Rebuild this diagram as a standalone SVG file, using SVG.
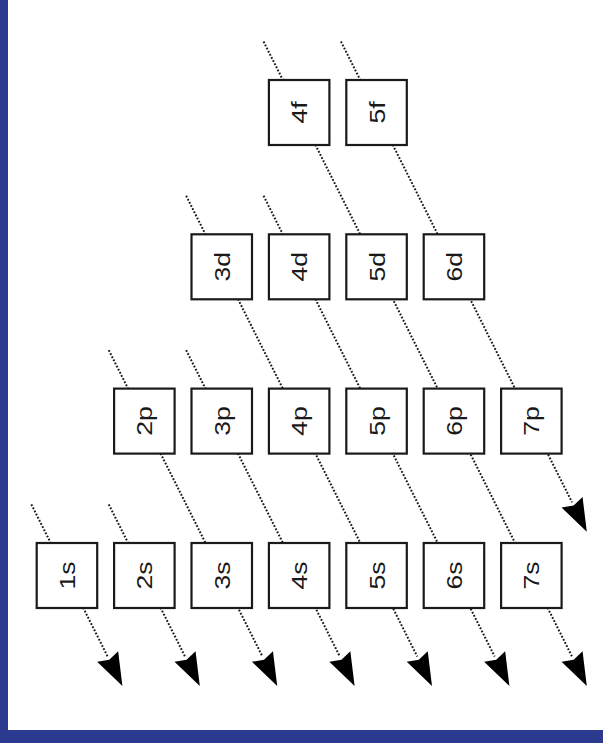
<svg xmlns="http://www.w3.org/2000/svg" width="603" height="743" viewBox="0 0 603 743">
<style>
.box{fill:#fff;stroke:#1a1a1a;stroke-width:2.2}
.lbl{font-family:"Liberation Sans",Arial,sans-serif;font-size:22.5px;fill:#1a1a1a;text-anchor:middle}
.dot{fill:none;stroke:#1a1a1a;stroke-width:2;stroke-dasharray:1.8 1.7;marker-end:url(#ah)}
</style>
<defs>
<marker id="ah" markerUnits="userSpaceOnUse" orient="auto" refX="0" refY="0" markerWidth="40" markerHeight="40" viewBox="-2 -12 34 24" overflow="visible">
<path d="M0,-10 L28,0 L0,10 L3,0 Z" fill="#000"/>
</marker>
</defs>
<rect x="0" y="0" width="603" height="743" fill="#fff"/>
<rect x="0" y="0" width="8" height="743" fill="#2B3A8E"/>
<rect x="0" y="730" width="603" height="13" fill="#2B3A8E"/>
<g id="connectors">
<path class="dot" d="M31.35,504.4 L107.64,656.53"/>
<path class="dot" d="M108.75,504.4 L185.04,656.53"/>
<path class="dot" d="M108.75,350.1 L262.44,656.53"/>
<path class="dot" d="M186.15,350.1 L339.84,656.53"/>
<path class="dot" d="M186.15,195.8 L417.24,656.53"/>
<path class="dot" d="M263.55,195.8 L494.64,656.53"/>
<path class="dot" d="M263.55,41.5 L572.04,656.53"/>
<path class="dot" d="M340.95,41.5 L572.04,502.23"/>
</g>
<g id="n1s"><rect class="box" x="36.7" y="543" width="60.5" height="65"/><text class="lbl" transform="translate(66.95,575.4) rotate(-90) scale(1.18,1)" y="8">1s</text></g>
<g id="n2s"><rect class="box" x="114.1" y="543" width="60.5" height="65"/><text class="lbl" transform="translate(144.35,575.4) rotate(-90) scale(1.18,1)" y="8">2s</text></g>
<g id="n3s"><rect class="box" x="191.5" y="543" width="60.5" height="65"/><text class="lbl" transform="translate(221.75,575.4) rotate(-90) scale(1.18,1)" y="8">3s</text></g>
<g id="n4s"><rect class="box" x="268.9" y="543" width="60.5" height="65"/><text class="lbl" transform="translate(299.15,575.4) rotate(-90) scale(1.18,1)" y="8">4s</text></g>
<g id="n5s"><rect class="box" x="346.3" y="543" width="60.5" height="65"/><text class="lbl" transform="translate(376.55,575.4) rotate(-90) scale(1.18,1)" y="8">5s</text></g>
<g id="n6s"><rect class="box" x="423.7" y="543" width="60.5" height="65"/><text class="lbl" transform="translate(453.95,575.4) rotate(-90) scale(1.18,1)" y="8">6s</text></g>
<g id="n7s"><rect class="box" x="501.1" y="543" width="60.5" height="65"/><text class="lbl" transform="translate(531.35,575.4) rotate(-90) scale(1.18,1)" y="8">7s</text></g>
<g id="n2p"><rect class="box" x="114.1" y="388.6" width="60.5" height="65"/><text class="lbl" transform="translate(144.35,421.1) rotate(-90) scale(1.18,1)" y="8">2p</text></g>
<g id="n3p"><rect class="box" x="191.5" y="388.6" width="60.5" height="65"/><text class="lbl" transform="translate(221.75,421.1) rotate(-90) scale(1.18,1)" y="8">3p</text></g>
<g id="n4p"><rect class="box" x="268.9" y="388.6" width="60.5" height="65"/><text class="lbl" transform="translate(299.15,421.1) rotate(-90) scale(1.18,1)" y="8">4p</text></g>
<g id="n5p"><rect class="box" x="346.3" y="388.6" width="60.5" height="65"/><text class="lbl" transform="translate(376.55,421.1) rotate(-90) scale(1.18,1)" y="8">5p</text></g>
<g id="n6p"><rect class="box" x="423.7" y="388.6" width="60.5" height="65"/><text class="lbl" transform="translate(453.95,421.1) rotate(-90) scale(1.18,1)" y="8">6p</text></g>
<g id="n7p"><rect class="box" x="501.1" y="388.6" width="60.5" height="65"/><text class="lbl" transform="translate(531.35,421.1) rotate(-90) scale(1.18,1)" y="8">7p</text></g>
<g id="n3d"><rect class="box" x="191.5" y="234.3" width="60.5" height="65"/><text class="lbl" transform="translate(221.75,266.8) rotate(-90) scale(1.18,1)" y="8">3d</text></g>
<g id="n4d"><rect class="box" x="268.9" y="234.3" width="60.5" height="65"/><text class="lbl" transform="translate(299.15,266.8) rotate(-90) scale(1.18,1)" y="8">4d</text></g>
<g id="n5d"><rect class="box" x="346.3" y="234.3" width="60.5" height="65"/><text class="lbl" transform="translate(376.55,266.8) rotate(-90) scale(1.18,1)" y="8">5d</text></g>
<g id="n6d"><rect class="box" x="423.7" y="234.3" width="60.5" height="65"/><text class="lbl" transform="translate(453.95,266.8) rotate(-90) scale(1.18,1)" y="8">6d</text></g>
<g id="n4f"><rect class="box" x="268.9" y="80" width="60.5" height="65"/><text class="lbl" transform="translate(299.15,112.5) rotate(-90) scale(1.18,1)" y="8">4f</text></g>
<g id="n5f"><rect class="box" x="346.3" y="80" width="60.5" height="65"/><text class="lbl" transform="translate(376.55,112.5) rotate(-90) scale(1.18,1)" y="8">5f</text></g>
</svg>
